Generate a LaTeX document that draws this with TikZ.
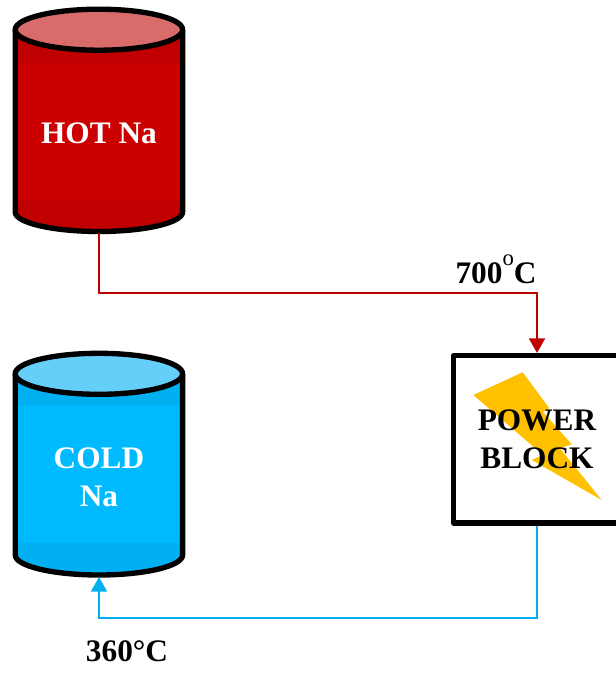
\documentclass[tikz,border=0pt]{standalone}
\usepackage{fontspec}
\setmainfont{Liberation Serif}
\usetikzlibrary{arrows.meta}
\definecolor{hotdark}{HTML}{C00000}
\definecolor{hotmain}{HTML}{CC0000}
\definecolor{hottop}{HTML}{D96B6B}
\definecolor{colddark}{HTML}{00B0F0}
\definecolor{coldmain}{HTML}{00BAFF}
\definecolor{coldtop}{HTML}{66CFF9}
\definecolor{boltcolor}{HTML}{FFC000}
\tikzset{
    label text/.style={font=\bfseries\fontsize{23.5}{28.8}\selectfont, align=center, inner sep=0pt},
    tank label/.style={label text, text=white, minimum width=126.75pt, minimum height=150pt, outer sep=0pt},
    tank line/.style={line width=4pt, line join=round},
    pipe/.style={line width=1.5pt, -{Triangle[width=12pt,length=11pt]}},
}
\begin{document}
\begin{tikzpicture}[x=0.75pt, y=-0.75pt]
    \useasboundingbox (0,0) rectangle (616,673);
    \clip (0,0) rectangle (616,673);
    % hot tank
    \fill[hotdark] (15.2,30) -- (15.2,212) arc[start angle=180, end angle=0, x radius=83.7, y radius=19.5] -- (182.6,30) -- cycle;
    \fill[hotmain] (17,63) rectangle (181,200);
    \draw[tank line] (15.2,30) -- (15.2,212) arc[start angle=180, end angle=0, x radius=83.7, y radius=19.5] -- (182.6,30);
    \draw[tank line, fill=hottop] (98.9,29.7) ellipse[x radius=83.7, y radius=20.5];
    % cold tank
    \fill[colddark] (15.2,374) -- (15.2,555) arc[start angle=180, end angle=0, x radius=83.7, y radius=20] -- (182.6,374) -- cycle;
    \fill[coldmain] (17,406) rectangle (181,543);
    \draw[tank line] (15.2,374) -- (15.2,555) arc[start angle=180, end angle=0, x radius=83.7, y radius=20] -- (182.6,374);
    \draw[tank line, fill=coldtop] (98.9,373.8) ellipse[x radius=83.7, y radius=20.5];
    % bolt goes under the block text
    \fill[boltcolor] (473.3,395) -- (522.7,372.3) -- (549.3,408.3) -- (543,412) -- (571.7,444.3) -- (560,448.3) -- (601.7,500) -- (531.7,460) -- (543,455) -- cycle;

    \node[tank label] (hotNa) at (99,133.5) {HOT Na};
    \node[tank label] (coldNa) at (99,477) {COLD\\Na};
    \node[label text, draw, line width=4pt, line join=round, minimum width=125pt, minimum height=125.4pt] (block) at (537,439.25) {\raisebox{-1.5pt}{POWER}\\\raisebox{-1.5pt}{BLOCK}};
    \node[label text, anchor=base] (tempHot) at (496,283) {700\raisebox{13.5pt}{\normalfont\fontsize{17}{17}\selectfont o}C};
    \node[label text, anchor=base] (tempCold) at (127,661) {360°C};

    \draw[pipe, hotdark] (hotNa.south) -- ++(0,59) -| (block.north);
    \draw[pipe, colddark] (block.south) -- ++(0,92) -| (coldNa.south);
\end{tikzpicture}
\end{document}
